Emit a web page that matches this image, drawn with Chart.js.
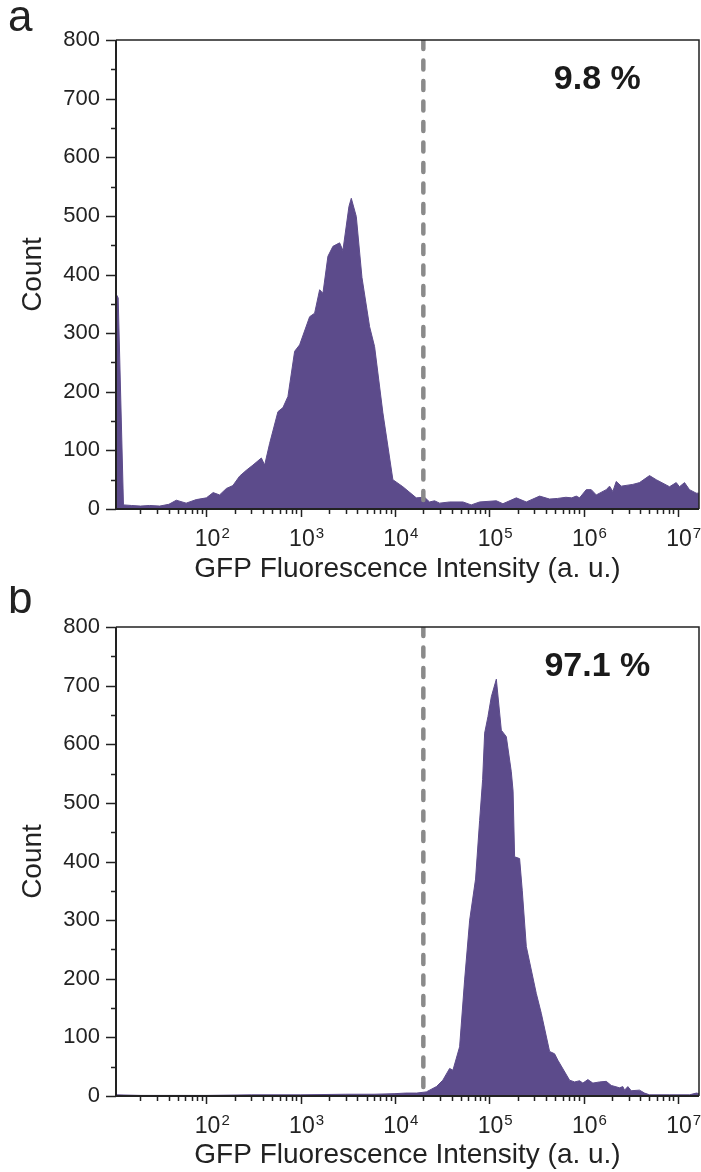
<!DOCTYPE html>
<html>
<head>
<meta charset="utf-8">
<script src="https://cdn.jsdelivr.net/npm/chart.js@4.4.0/dist/chart.umd.min.js"></script>
<style>
    body { margin: 0; background: #fff; }
    #wrap { position: relative; width: 701px; height: 1172px; }
    canvas { position: absolute; left: 0; }
</style>
</head>
<body>
<div id="wrap">
    <canvas id="chartA" width="701" height="586" style="top:0"></canvas>
    <canvas id="chartB" width="701" height="586" style="top:586px"></canvas>
</div>
<script>
// Panel a - GFP intensity (a. u.) vs count
const aIntensity = [11, 11.6, 13.2, 16, 20, 25, 32, 40, 48, 61, 78, 100, 118, 138, 163, 191, 225, 265, 312, 383,
    415, 469, 574, 649, 733, 863, 975, 1245, 1406, 1589, 1722, 1945, 2198, 2588, 2805, 3251, 3443, 3890, 4467, 5383,
    6081, 7447, 9506, 12130, 16830, 20610, 23280, 26300, 29720, 38020, 52600, 64420, 79070, 118900, 139600, 193600,
    247200, 342000, 436500, 530000, 650000, 750000, 837500, 907800, 1069000, 1208000, 1365000, 1742000, 1888000,
    2046000, 2223000, 2512000, 3334000, 3926000, 5012000, 5902000, 8166000, 9616000, 10420000, 11780000, 13300000,
    15670000, 16777215];
const aCount = [367, 360, 7, 6, 5, 6, 5, 8, 15, 10, 16, 19, 28, 24, 35, 40, 56, 66, 75, 87,
    75, 112, 166, 173, 192, 269, 280, 328, 334, 374, 368, 431, 448, 454, 441, 516, 530, 499, 395, 311,
    277, 164, 50, 38, 19, 20, 12, 14, 10, 12, 12, 7, 12, 14, 9, 19,
    12, 22, 17, 18, 20, 19, 22, 19, 33, 33, 24, 33, 39,
    30, 47, 39, 42, 45, 57, 50, 38, 45, 38, 45, 33,
    27, 27];

// Panel b
const bIntensity = [11, 20, 40, 100, 300, 1000, 3000, 6000, 10000, 13000, 17000, 21500, 27500, 32200, 38000, 41200,
    48500, 54800, 62000, 71600, 79100, 85100, 89400, 96900, 105200, 118900, 134300, 151700, 171400, 179000, 185800,
    209900, 223900, 247200, 315500, 356500, 436500, 493200, 534600, 711200, 803500, 907800, 984000, 1112000, 1256000,
    1479000, 1742000, 1968000, 2410000, 2612000, 2723000, 2951000, 3206000, 3926000, 4436000, 5012000, 8170000,
    13300000, 15780000, 16777215];
const bCount = [2, 1, 1, 1, 2, 2, 3, 3, 4, 5, 5, 7, 16, 27, 47, 44,
    84, 198, 300, 370, 470, 540, 619, 647, 681, 711, 624, 613, 553, 520, 408,
    405, 351, 255, 175, 141, 76, 72, 61, 27, 24, 26, 22, 28, 22,
    24, 25, 18, 14, 16, 10, 16, 9, 10, 5, 2, 2,
    2, 5, 4];

const xTickValues = [1e2, 1e3, 1e4, 1e5, 1e6, 1e7];
const xTickExponents = ['2', '3', '4', '5', '6', '7'];
const xMin = 11;
const xMax = 16777215;
const gateIntensity = 20000;
const pctLabelPos = { x: 1.4e6, y: 732 };

const FONT = '"Liberation Sans", Arial, sans-serif';
Chart.defaults.font.family = FONT;
Chart.defaults.color = '#222';

const framePlugin = {
    id: 'frame',
    afterDraw(chart, args, opts) {
        const { ctx, chartArea: a } = chart;
        const xs = chart.scales.x, ys = chart.scales.y;
        ctx.save();
        ctx.strokeStyle = '#222';

        // top / right border
        ctx.lineWidth = 1.5;
        ctx.beginPath();
        ctx.moveTo(a.left, a.top);
        ctx.lineTo(a.right, a.top);
        ctx.lineTo(a.right, a.bottom);
        ctx.stroke();

        // axes
        ctx.lineWidth = 2;
        ctx.beginPath();
        ctx.moveTo(a.left, a.top);
        ctx.lineTo(a.left, a.bottom);
        ctx.lineTo(a.right, a.bottom);
        ctx.stroke();

        // y ticks (major 100, minor 50)
        ctx.lineWidth = 1.5;
        ctx.beginPath();
        for (let v = 0; v <= 800; v += 50) {
            const py = Math.round(ys.getPixelForValue(v)) + 0.5;
            const len = v % 100 === 0 ? 10 : 5;
            ctx.moveTo(a.left - len, py);
            ctx.lineTo(a.left, py);
        }
        // x ticks (decades + 2..9 minor)
        for (let d = 1; d <= 7; d++) {
            for (let m = 1; m <= 9; m++) {
                const v = m * Math.pow(10, d);
                if (v < xMin || v > xMax) continue;
                const px = Math.round(xs.getPixelForValue(v)) + 0.5;
                const len = m === 1 ? 8 : 5;
                ctx.moveTo(px, a.bottom);
                ctx.lineTo(px, a.bottom + len);
            }
        }
        ctx.stroke();

        // x tick labels: 10 with superscript exponent
        ctx.fillStyle = '#222';
        ctx.textBaseline = 'alphabetic';
        xTickValues.forEach((v, i) => {
            const px = xs.getPixelForValue(v);
            ctx.font = '23px ' + FONT;
            ctx.textAlign = 'right';
            ctx.fillText('10', px + 14, a.bottom + 37);
            ctx.font = '15px ' + FONT;
            ctx.textAlign = 'left';
            ctx.fillText(xTickExponents[i], px + 15, a.bottom + 29);
        });

        // percentage label
        ctx.fillStyle = '#1a1a1a';
        ctx.font = 'bold 34px ' + FONT;
        ctx.textAlign = 'center';
        ctx.textBaseline = 'middle';
        ctx.fillText(opts.pct, xs.getPixelForValue(pctLabelPos.x), ys.getPixelForValue(pctLabelPos.y));

        // panel letter
        ctx.fillStyle = '#222';
        ctx.font = '44px ' + FONT;
        ctx.textAlign = 'left';
        ctx.textBaseline = 'alphabetic';
        ctx.fillText(opts.letter, 8, opts.letterY);
        ctx.restore();
    }
};

function makePanel(canvasId, intensity, counts, letter, letterY, pct, topPad, xHeight) {
    const ctx = document.getElementById(canvasId).getContext('2d');
    return new Chart(ctx, {
        type: 'line',
        data: {
            datasets: [
                {
                    label: 'gate',
                    data: [{ x: gateIntensity, y: 800 }, { x: gateIntensity, y: 0 }],
                    borderColor: '#8a8a8a',
                    borderWidth: 4.5,
                    borderDash: [9, 11.5],
                    borderCapStyle: 'round',
                    pointRadius: 0,
                    fill: false
                },
                {
                    label: 'count',
                    data: intensity.map((v, i) => ({ x: v, y: counts[i] })),
                    borderColor: '#5c4b8b',
                    backgroundColor: '#5c4b8b',
                    borderWidth: 1,
                    pointRadius: 0,
                    tension: 0,
                    fill: 'origin'
                }
            ]
        },
        options: {
            responsive: false,
            animation: false,
            devicePixelRatio: 1,
            layout: { padding: { top: topPad, right: 2, left: 0, bottom: 0 } },
            plugins: {
                legend: { display: false },
                tooltip: { enabled: false },
                frame: { letter: letter, letterY: letterY, pct: pct }
            },
            scales: {
                x: {
                    type: 'logarithmic',
                    min: xMin,
                    max: xMax,
                    grid: { display: false, drawTicks: false },
                    border: { display: false },
                    afterBuildTicks: scale => {
                        scale.ticks = xTickValues.map(v => ({ value: v, major: true }));
                    },
                    afterFit: scale => {
                        scale.height = xHeight;
                        scale.paddingLeft = 0;
                        scale.paddingRight = 0;
                    },
                    ticks: { display: false },
                    title: {
                        display: true,
                        text: 'GFP Fluorescence Intensity (a. u.)',
                        font: { size: 28 },
                        padding: { top: 0, bottom: 0 }
                    }
                },
                y: {
                    min: 0,
                    max: 800,
                    grid: { display: false, drawTicks: false },
                    border: { display: false },
                    afterFit: scale => {
                        scale.width = 116;
                        scale.paddingTop = 0;
                        scale.paddingBottom = 0;
                    },
                    ticks: {
                        stepSize: 100,
                        padding: 16,
                        font: { size: 22 }
                    },
                    title: {
                        display: true,
                        text: 'Count',
                        font: { size: 28 },
                        padding: { top: 16, bottom: 0 }
                    }
                }
            }
        },
        plugins: [framePlugin]
    });
}

makePanel('chartA', aIntensity, aCount, 'a', 31, '9.8 %', 40, 77);
makePanel('chartB', bIntensity, bCount, 'b', 27, '97.1 %', 41, 76);
</script>
</body>
</html>
